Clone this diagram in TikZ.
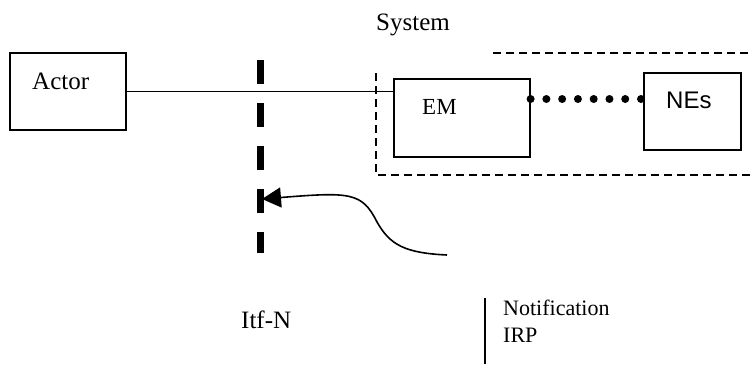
\documentclass[tikz,border=0pt]{standalone}
\usepackage{fontspec}
\setmainfont{Liberation Serif}
\newfontfamily\arialfont{Liberation Sans}
\usetikzlibrary{positioning, arrows.meta, calc}
\tikzstyle{block}=[draw,fill=white,rectangle,line width=1.2pt,inner sep=0pt]
\tikzstyle{label}=[anchor=base west,inner sep=0pt,font=\fontsize{25}{30}\selectfont]
\tikzstyle{sysline}=[line width=1.4pt,dash pattern=on 8pt off 5pt]
\tikzstyle{itf}=[line width=7pt,dash pattern=on 24pt off 19pt]

\begin{document}
\begin{tikzpicture}[x=1pt,y=-1pt,>=latex]
            \useasboundingbox (0,0) rectangle (752,364);
            % boxes
            \node[block, minimum width=116pt, minimum height=77pt] (Actor) at (68,91.5) {};
            \node[block, minimum width=136pt, minimum height=78pt] (EM) at (462,118) {};
            \node[block, minimum width=97pt, minimum height=77pt] (NEs) at (692.5,111.5) {};
            \node[label] (tActor) at (32,89.3) {Actor};
            \node[label, font=\fontsize{23}{28}\selectfont] (tEM) at (422,114.3) {EM};
            \node[label, font=\arialfont\fontsize{24}{28}\selectfont] (tNEs) at (666,108.3) {NEs};
            \node[label] (tSystem) at (376,30.7) {System};
            \node[label] (tItf) at (241,328) {Itf-N};
            \node[anchor=base west, inner sep=0pt, align=left,
                  font=\fontsize{22}{27}\selectfont] (tNotif) at (503,342) {Notification\\IRP};
            % system boundary
            \coordinate (sysA) at (493,53);
            \coordinate (sysB) at (752,53);
            \coordinate (sysC) at (376,73);
            \coordinate (sysD) at (376,175);
            \coordinate (sysE) at (752,175);
            \draw[sysline] (sysA) -- (sysB);
            \draw[sysline] (sysC) -- (sysD) -- (sysE);
            % Itf-N
            \coordinate (itfTop) at (260,60);
            \coordinate (itfBot) at (260,253);
            \draw[itf] (itfTop) -- (itfBot);
            \coordinate (itfTip) at (262,199);
            \coordinate (notifStart) at (447,255);
            % connectors
            \draw[line width=1.2pt] (Actor.east) -- (Actor.east -| EM.west);
            \coordinate (d0) at (EM.east |- 0,99);
            \coordinate (d7) at (641,99);
            \foreach \i in {0,...,7}
                \fill ($(d0)!\i/7!(d7)$) circle (4pt);
            \draw[line width=1.6pt, -{Triangle[length=19pt,width=20pt]}]
                (notifStart) .. controls (405,253) and (390,245) .. (377,222)
                .. controls (362,192) and (350,192) .. (itfTip);
            \coordinate (barTop) at (485,298);
            \coordinate (barBot) at (485,364);
            \draw[line width=1.2pt] (barTop) -- (barBot);
        \end{tikzpicture}
\end{document}
